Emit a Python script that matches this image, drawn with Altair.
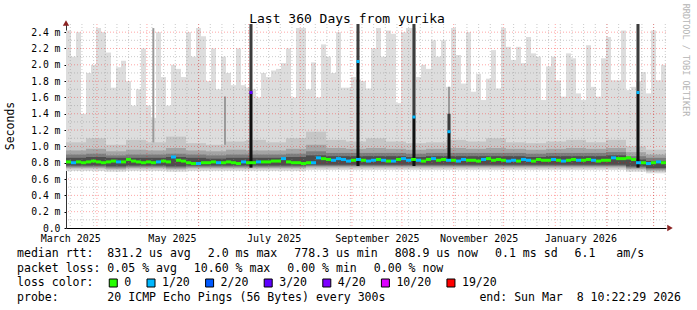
import altair as alt
import numpy as np
import pandas as pd

# ---------------- data ----------------
START = pd.Timestamp("2025-03-13 10:22:29")
END = pd.Timestamp("2026-03-08 10:22:29")

# per 3-day bin (120 bins): highest ping (ms)
max_rtt = [2.42, 2.10, 2.40, 1.40, 1.90, 2.00, 2.45, 2.40, 2.15, 1.72,
           1.97, 2.05, 1.80, 1.50, 1.70, 2.20, 1.50, 1.35, 2.40, 1.85,
           1.50, 2.00, 1.95, 1.85, 2.40, 2.10, 2.45, 2.35, 1.80, 2.20,
           1.70, 2.10, 1.90, 1.75, 2.20, 1.75, 1.72, 1.70, 1.60, 1.90,
           1.85, 1.93, 1.95, 2.02, 2.20, 1.60, 2.45, 2.45, 1.70, 2.03,
           1.60, 2.25, 2.10, 1.90, 2.40, 1.72, 1.72, 1.85, 1.82, 1.80,
           1.71, 2.20, 2.45, 2.10, 2.42, 2.38, 1.53, 2.40, 2.45, 2.45,
           1.85, 2.00, 1.95, 2.30, 2.10, 2.30, 1.73, 2.45, 2.12, 1.77,
           2.40, 1.67, 1.89, 1.57, 1.83, 2.18, 1.71, 2.45, 2.22, 2.06,
           2.22, 2.02, 2.34, 2.14, 2.10, 1.57, 1.98, 2.10, 1.81, 1.61,
           2.14, 2.08, 1.65, 1.57, 2.24, 1.73, 1.61, 2.08, 2.34, 1.81,
           1.81, 2.42, 1.69, 1.73, 1.80, 1.91, 1.65, 2.42, 1.81, 2.00]

# per 3-day bin: median rtt (ms)
median_rtt = [0.81, 0.80, 0.81, 0.80, 0.81, 0.82, 0.81, 0.80, 0.81, 0.82,
              0.81, 0.81, 0.84, 0.82, 0.81, 0.80, 0.81, 0.80, 0.81, 0.82,
              0.81, 0.87, 0.83, 0.82, 0.80, 0.79, 0.79, 0.80, 0.80, 0.81,
              0.80, 0.80, 0.81, 0.80, 0.79, 0.81, 0.80, 0.80, 0.81, 0.81,
              0.81, 0.82, 0.82, 0.85, 0.81, 0.80, 0.80, 0.79, 0.80, 0.80,
              0.86, 0.85, 0.84, 0.83, 0.85, 0.84, 0.82, 0.83, 0.84, 0.83,
              0.82, 0.83, 0.84, 0.83, 0.82, 0.82, 0.84, 0.85, 0.83, 0.84,
              0.83, 0.82, 0.84, 0.85, 0.83, 0.84, 0.83, 0.83, 0.82, 0.84,
              0.83, 0.83, 0.82, 0.84, 0.85, 0.83, 0.84, 0.83, 0.82, 0.83,
              0.82, 0.84, 0.83, 0.82, 0.84, 0.83, 0.83, 0.84, 0.83, 0.82,
              0.83, 0.84, 0.83, 0.83, 0.84, 0.83, 0.82, 0.83, 0.83, 0.86,
              0.85, 0.85, 0.86, 0.84, 0.80, 0.80, 0.79, 0.80, 0.81, 0.80]

# per 3-day bin: lost pings out of 20
median_loss = [0, 1, 0, 0, 0, 0, 0, 0, 0, 0, 1, 0, 0, 0, 0, 0, 0, 0, 1, 0,
               0, 1, 0, 0, 0, 0, 1, 0, 0, 0, 1, 0, 0, 0, 0, 1, 0, 0, 1, 0,
               0, 0, 0, 1, 0, 0, 0, 0, 0, 1, 1, 0, 0, 1, 1, 1, 1, 0, 1, 0,
               1, 1, 0, 1, 0, 1, 0, 1, 1, 0, 1, 0, 0, 1, 0, 0, 1, 0, 1, 1,
               0, 0, 0, 1, 0, 0, 0, 0, 1, 1, 0, 1, 1, 0, 0, 0, 0, 1, 0, 1,
               0, 0, 1, 0, 0, 1, 0, 0, 0, 1, 0, 0, 0, 0, 1, 0, 1, 0, 1, 0]

# per 12-day bin (30 bins): smoke bands (ms)
smoke_min = [0.70, 0.70, 0.69, 0.70, 0.70, 0.69, 0.70, 0.70, 0.70, 0.70,
             0.70, 0.70, 0.71, 0.71, 0.71, 0.71, 0.71, 0.71, 0.71, 0.71,
             0.71, 0.71, 0.71, 0.71, 0.71, 0.71, 0.71, 0.71, 0.69, 0.67]
band1_lo = [0.72, 0.72, 0.71, 0.72, 0.72, 0.71, 0.72, 0.72, 0.72, 0.72,
            0.72, 0.72, 0.73, 0.73, 0.73, 0.73, 0.73, 0.73, 0.73, 0.73,
            0.73, 0.73, 0.73, 0.73, 0.73, 0.73, 0.73, 0.73, 0.71, 0.69]
band1_hi = [1.05, 1.10, 1.02, 1.08, 1.05, 1.12, 1.04, 1.02, 1.06, 1.08,
            1.05, 1.10, 1.18, 1.08, 1.06, 1.10, 1.06, 1.04, 1.05, 1.08,
            1.06, 1.10, 1.05, 1.04, 1.06, 1.08, 1.05, 1.08, 1.00, 0.96]
band2_lo = [0.735, 0.735, 0.725, 0.735, 0.735, 0.725, 0.735, 0.735, 0.735, 0.735,
            0.735, 0.735, 0.745, 0.745, 0.745, 0.745, 0.745, 0.745, 0.745, 0.745,
            0.745, 0.745, 0.745, 0.745, 0.745, 0.745, 0.745, 0.745, 0.725, 0.705]
band2_hi = [0.95, 0.97, 0.94, 0.96, 0.95, 0.98, 0.95, 0.94, 0.96, 0.95,
            0.95, 0.97, 1.02, 0.98, 0.97, 0.98, 0.97, 0.96, 0.97, 0.98,
            0.97, 0.98, 0.97, 0.96, 0.97, 0.98, 0.97, 0.98, 0.93, 0.90]
band3_lo = [0.75, 0.75, 0.74, 0.75, 0.75, 0.74, 0.75, 0.75, 0.75, 0.75,
            0.75, 0.75, 0.76, 0.76, 0.76, 0.76, 0.76, 0.76, 0.76, 0.76,
            0.76, 0.76, 0.76, 0.76, 0.76, 0.76, 0.76, 0.76, 0.74, 0.72]
band3_hi = [0.90, 0.91, 0.89, 0.90, 0.90, 0.91, 0.90, 0.89, 0.90, 0.90,
            0.90, 0.91, 0.94, 0.92, 0.92, 0.92, 0.92, 0.91, 0.92, 0.92,
            0.92, 0.92, 0.92, 0.91, 0.92, 0.92, 0.92, 0.93, 0.88, 0.86]
band4_lo = [0.765, 0.765, 0.755, 0.765, 0.765, 0.755, 0.765, 0.765, 0.765, 0.765,
            0.765, 0.765, 0.775, 0.775, 0.775, 0.775, 0.775, 0.775, 0.775, 0.775,
            0.775, 0.775, 0.775, 0.775, 0.775, 0.775, 0.775, 0.775, 0.755, 0.735]
band4_hi = [0.86, 0.87, 0.86, 0.86, 0.86, 0.87, 0.86, 0.85, 0.86, 0.86,
            0.86, 0.87, 0.89, 0.88, 0.88, 0.88, 0.88, 0.87, 0.88, 0.88,
            0.88, 0.88, 0.88, 0.87, 0.88, 0.88, 0.88, 0.89, 0.84, 0.82]

# outage spikes
spike_time = ["2025-07-02T10:00:00", "2025-09-04T15:00:00", "2025-10-08T05:00:00",
              "2025-10-29T05:30:00", "2026-02-19T15:00:00"]
spike_low = [0.74, 0.76, 0.76, 0.84, 0.74]
spike_median = [1.66, 2.04, 1.36, 1.18, 1.66]
spike_top = [2.50, 2.50, 2.50, 1.40, 2.50]
spike_loss = [3, 1, 1, 1, 1]

# single high-smoke bins
haze_time = ["2025-05-04T20:00:00", "2025-06-16T20:00:00", "2025-10-29T05:30:00"]
haze_top = [2.45, 1.61, 1.73]

month_label_dates = ["2025-03-16", "2025-05-16", "2025-07-16",
                     "2025-09-16", "2025-11-16", "2026-01-16"]
y_ticks = [0.0, 0.2, 0.4, 0.6, 0.8, 1.0, 1.2, 1.4, 1.6, 1.8, 2.0, 2.2, 2.4]

title_text = "Last 360 Days from yurika"
line1 = ["median rtt:  831.2 us avg", "2.0 ms max", "778.3 us min",
         "808.9 us now", "0.1 ms sd", "6.1   am/s"]
line2 = ["packet loss: 0.05 % avg", "10.60 % max", "0.00 % min", "0.00 % now"]
loss_labels = ["0", "1/20", "2/20", "3/20", "4/20", "10/20", "19/20"]
loss_values = [0, 1, 2, 3, 4, 10, 19]
loss_colors = ["#26ff00", "#00b8ff", "#0059ff", "#5e00ff", "#7e00ff", "#dd00ff", "#ff0000"]
probe_text = "probe:       20 ICMP Echo Pings (56 Bytes) every 300s"
end_text = "end: Sun Mar  8 10:22:29 2026"

# ---------------- helpers ----------------
ISO = "%Y-%m-%dT%H:%M:%S"
FONT = "DejaVu Sans Mono"


def iso(ts):
    return ts.strftime(ISO)


def dt(ts):
    ts = pd.Timestamp(ts)
    return alt.DateTime(year=ts.year, month=ts.month, date=ts.day,
                        hours=ts.hour, minutes=ts.minute, seconds=ts.second)


def nb(s):
    return s.replace(" ", "\u00a0")


W, H = 600, 204
one = pd.DataFrame({"z": [0]})

n = len(max_rtt)
step = (END - START) / n
bins = pd.DataFrame({
    "t0": [iso(START + i * step) for i in range(n)],
    "t1": [iso(START + (i + 1) * step) for i in range(n)],
    "lo": [smoke_min[i * len(smoke_min) // n] for i in range(n)],
    "hi": max_rtt,
    "median": median_rtt,
    "loss": median_loss,
})

m = len(smoke_min)
step2 = (END - START) / m
t0s = [iso(START + j * step2) for j in range(m)]
t1s = [iso(START + (j + 1) * step2) for j in range(m)]

xscale = alt.Scale(domain=[dt(START), dt(END)])
yscale = alt.Scale(domain=[0, 2.5], nice=False)

xaxis = alt.Axis(values=[dt(d) for d in month_label_dates], format="%B %Y",
                 title=None, grid=False, ticks=False, domainColor="#000000",
                 labelFont=FONT, labelFontSize=10, labelColor="#000000",
                 labelPadding=5, labelFlush=False, labelOverlap=False)
yaxis = alt.Axis(values=y_ticks, title=None, grid=False, tickSize=2,
                 tickColor="#000000", domainColor="#333333",
                 labelExpr="datum.value == 0 ? '0.0\u00a0\u00a0' : format(datum.value, '.1f') + '\u00a0m'",
                 labelFont=FONT, labelFontSize=9.75, labelColor="#000000",
                 labelPadding=4)

X0 = alt.X("t0:T", scale=xscale, axis=xaxis)
Y = lambda f: alt.Y(f, scale=yscale, axis=yaxis)
loss_scale = alt.Scale(domain=loss_values, range=loss_colors)

layers = []

# light grey min..max area
layers.append(alt.Chart(bins).mark_rect(color="#dddddd", clip=True).encode(
    x=X0, x2="t1:T", y=Y("lo:Q"), y2="hi:Q"))

# single high bins
hz = pd.DataFrame({
    "t0": [iso(pd.Timestamp(t) - pd.Timedelta(hours=14)) for t in haze_time],
    "t1": [iso(pd.Timestamp(t) + pd.Timedelta(hours=14)) for t in haze_time],
    "lo": [0.75] * len(haze_time),
    "hi": haze_top,
})
layers.append(alt.Chart(hz).mark_rect(color="#9a9a9a", clip=True).encode(
    x=X0, x2="t1:T", y=Y("lo:Q"), y2="hi:Q"))

# smoke bands
for lo, hi, col in [(band1_lo, band1_hi, "#c6c6c6"), (band2_lo, band2_hi, "#a4a4a4"),
                    (band3_lo, band3_hi, "#7c7c7c"), (band4_lo, band4_hi, "#4e4e4e")]:
    df = pd.DataFrame({"t0": t0s, "t1": t1s, "lo": lo, "hi": hi})
    layers.append(alt.Chart(df).mark_rect(color=col).encode(
        x=X0, x2="t1:T", y=Y("lo:Q"), y2="hi:Q"))

# grid
weeks = pd.date_range("2025-03-14", END, freq="W-SUN")
months = pd.date_range("2025-04-01", END, freq="MS")
vminor = pd.DataFrame({"t0": [iso(t) for t in weeks]})
vmajor = pd.DataFrame({"t0": [iso(t) for t in months]})
hminor = pd.DataFrame({"v": np.round(np.arange(0.1, 2.45, 0.2), 2)})
hmajor = pd.DataFrame({"v": np.round(np.arange(0.2, 2.45, 0.2), 2)})
layers.append(alt.Chart(vminor).mark_rule(color="#8a8a8a", opacity=0.45, strokeDash=[1, 2]).encode(x=X0))
layers.append(alt.Chart(hminor).mark_rule(color="#8a8a8a", opacity=0.45, strokeDash=[1, 2]).encode(y=Y("v:Q")))
layers.append(alt.Chart(vmajor).mark_rule(color="#ff0000", opacity=0.35, strokeDash=[1, 2]).encode(x=X0))
layers.append(alt.Chart(hmajor).mark_rule(color="#ff0000", opacity=0.35, strokeDash=[1, 2]).encode(y=Y("v:Q")))

# outage spikes
sp = pd.DataFrame({
    "t0": [iso(pd.Timestamp(t) - pd.Timedelta(hours=22)) for t in spike_time],
    "t1": [iso(pd.Timestamp(t) + pd.Timedelta(hours=22)) for t in spike_time],
    "lo": spike_low, "med": spike_median, "hi": spike_top, "loss": spike_loss,
})
layers.append(alt.Chart(sp).mark_rect(color="#3c3c3c", clip=True).encode(
    x=X0, x2="t1:T", y=Y("med:Q"), y2="hi:Q"))
layers.append(alt.Chart(sp).mark_rect(color="#111111", clip=True).encode(
    x=X0, x2="t1:T", y=Y("lo:Q"), y2="med:Q"))

# median line coloured by loss
layers.append(alt.Chart(bins).mark_rule(strokeWidth=3, strokeCap="butt").encode(
    x=X0, x2="t1:T", y=Y("median:Q"),
    color=alt.Color("loss:N", scale=loss_scale, legend=None)))
layers.append(alt.Chart(sp).mark_rule(strokeWidth=3, strokeCap="butt").encode(
    x=X0, x2="t1:T", y=Y("med:Q"),
    color=alt.Color("loss:N", scale=loss_scale, legend=None)))

# axis arrows
ARROW = "#8b2323"
layers.append(alt.Chart(one).mark_point(shape="triangle-up", filled=True, size=40,
                                         color=ARROW, opacity=1).encode(
    x=alt.value(0), y=alt.value(-1)))
layers.append(alt.Chart(one).mark_point(shape="triangle-right", filled=True, size=40,
                                         color=ARROW, opacity=1).encode(
    x=alt.value(W + 4), y=alt.value(H)))


def text_layer(s, x, y, size, align="left", angle=0, color="#000000"):
    kw = dict(text=nb(s), font=FONT, fontSize=size, align=align,
              baseline="middle", color=color)
    if angle:
        kw["angle"] = angle
    return alt.Chart(one).mark_text(**kw).encode(x=alt.value(x), y=alt.value(y))


layers.append(text_layer(title_text, 281, -5, 13, align="center"))
layers.append(text_layer("Seconds", -55, H / 2, 11.5, align="center", angle=270))
layers.append(text_layer("RRDTOOL / TOBI OETIKER", 620, 36, 8.5, align="center",
                         angle=90, color="#b4b4b4"))

# legend text
CW = 6.95
GAP = 17.0
LX = 17 - 66
LY = [230, 244.5, 259, 273.5]
FS = 11.55

x = LX
for s in line1:
    layers.append(text_layer(s, x, LY[0], FS))
    x += len(s) * CW + GAP
x = LX
for s in line2:
    layers.append(text_layer(s, x, LY[1], FS))
    x += len(s) * CW + GAP

layers.append(text_layer("loss color:", LX, LY[2], FS))
cur = LX + 11 * CW + 15.3
for lab, col in zip(loss_labels, loss_colors):
    layers.append(alt.Chart(one).mark_square(size=64, fill=col, stroke="#000000",
                                              strokeWidth=1, opacity=1).encode(
        x=alt.value(cur + 4.5), y=alt.value(LY[2])))
    lx = cur + 15.5
    layers.append(text_layer(lab, lx, LY[2], FS))
    cur = lx + len(lab) * CW + 15.3

layers.append(text_layer(probe_text, LX, LY[3], FS))
layers.append(text_layer(end_text, 681 - 66, LY[3], FS, align="right"))

chart = alt.layer(*layers).properties(
    width=W, height=H,
    padding={"left": 66, "top": 24, "right": 31, "bottom": 82},
    autosize=alt.AutoSizeParams(type="none"),
    background="#ffffff",
).configure_view(stroke=None)

chart.save("out.html", embed_options={"renderer": "svg", "actions": False})
